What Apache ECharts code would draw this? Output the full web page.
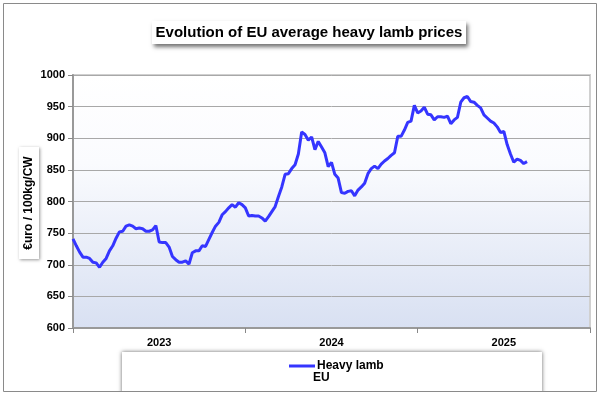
<!DOCTYPE html>
<html>
<head>
<meta charset="utf-8">
<script src="https://cdn.jsdelivr.net/npm/echarts@6/dist/echarts.min.js"></script>
<style>html,body{margin:0;padding:0;background:#fff}#c{width:600px;height:396px}</style>
</head>
<body>
<div id="c"></div>
<script>
// Year labels (x axis categories)
var years = ['2023', '2024', '2025'];
var weeksPerYear = 52;
// Y axis range/ticks
var yMin = 600, yMax = 1000, yStep = 50;
// Weekly EU average heavy lamb price (€/100kg CW), from week 1 of 2023
var prices = [
  741, 730, 720, 712, 712, 710, 704, 703, 696, 704,
  710, 722, 730, 742, 752, 753, 761, 763, 761, 757,
  758, 757, 753, 753, 755, 762, 736, 735, 735, 728,
  713, 708, 704, 704, 706, 701, 719, 722, 722, 730,
  729, 740, 751, 761, 767, 779, 784, 790, 795, 791,
  798, 795, 790, 777, 778, 777, 777, 774, 769, 776,
  784, 792, 808, 823, 843, 844, 852, 858, 875, 910,
  906, 897, 902, 882, 895, 886, 877, 855, 862, 843,
  837, 814, 813, 816, 817, 809, 818, 823, 829, 844,
  852, 856, 852, 859, 864, 868, 873, 877, 903, 903,
  913, 925, 927, 952, 940, 943, 949, 938, 937, 929,
  934, 934, 933, 935, 923, 929, 933, 957, 964, 966,
  958, 957, 952, 948, 937, 932, 927, 924, 918, 909,
  911, 890, 875, 862, 867, 865, 860, 863
];
var seriesName = 'Heavy lamb';
var seriesSub = 'EU';
var titleText = 'Evolution of EU average heavy lamb prices';
var yTitle = '€uro / 100kg/CW';

var FONT = '"Liberation Sans", Arial, sans-serif';
var chart = echarts.init(document.getElementById('c'), null, {renderer: 'canvas'});
chart.setOption({
  animation: false,
  backgroundColor: '#ffffff',
  grid: {
    left: 73, right: 10, top: 75, bottom: 68,
    show: true,
    borderColor: '#d0d0d0', borderWidth: 2,
    backgroundColor: {
      type: 'linear', x: 0, y: 0, x2: 0, y2: 1,
      colorStops: [
        {offset: 0, color: '#ffffff'},
        {offset: 0.35, color: '#fafbfe'},
        {offset: 1, color: '#d8e0f2'}
      ]
    }
  },
  legend: {
    data: [seriesName],
    left: 284, top: 355,
    icon: 'rect', itemWidth: 26, itemHeight: 3, itemGap: 4,
    textStyle: {fontFamily: FONT, fontWeight: 'bold', fontSize: 12, color: '#000', padding: [0, 0, 0, -3]}
  },
  xAxis: [{
    type: 'value', min: 0, max: weeksPerYear * years.length, interval: weeksPerYear,
    axisLabel: {show: false},
    axisTick: {show: true, length: 5, lineStyle: {color: '#888'}},
    axisLine: {lineStyle: {color: '#999', width: 2}},
    splitLine: {show: false}
  }, {
    type: 'category', data: years, position: 'bottom', boundaryGap: true,
    axisLine: {show: false}, axisTick: {show: false}, splitLine: {show: false},
    axisLabel: {fontFamily: FONT, fontWeight: 'bold', fontSize: 11, color: '#000', margin: 9}
  }],
  yAxis: {
    type: 'value', min: yMin, max: yMax, interval: yStep,
    axisLine: {show: true, lineStyle: {color: '#999', width: 2}},
    axisTick: {show: true, length: 5, lineStyle: {color: '#888'}},
    axisLabel: {fontFamily: FONT, fontWeight: 'bold', fontSize: 11, color: '#000', margin: 8,
      formatter: function (v) { return String(v); }},
    splitLine: {lineStyle: {color: '#a8a8a8', width: 1}}
  },
  series: [{
    name: seriesName, type: 'line', xAxisIndex: 0,
    data: prices.map(function (v, i) { return [i, v]; }),
    showSymbol: false, symbol: 'none',
    lineStyle: {color: '#3535ff', width: 3},
    itemStyle: {color: '#3535ff'}
  }],
  graphic: [
    {type: 'rect', shape: {x: 3.5, y: 3.5, width: 593, height: 388}, style: {fill: 'none', stroke: '#8a8a8a', lineWidth: 1}, z: 1},
    {type: 'rect', shape: {x: 152, y: 21, width: 314, height: 23},
      style: {fill: '#fff', shadowBlur: 4, shadowOffsetX: 2, shadowOffsetY: 3, shadowColor: 'rgba(0,0,0,0.55)'}, z: 2},
    {type: 'text', x: 309, y: 32.5, z: 3,
      style: {text: titleText, fill: '#000', font: 'bold 15px ' + FONT, textAlign: 'center', textVerticalAlign: 'middle'}},
    {type: 'rect', shape: {x: 19, y: 147, width: 20, height: 112},
      style: {fill: '#fff', shadowBlur: 3, shadowOffsetX: 1, shadowOffsetY: 1, shadowColor: 'rgba(0,0,0,0.4)'}, z: 2},
    {type: 'text', x: 29, y: 203, rotation: Math.PI / 2, z: 3,
      style: {text: yTitle, fill: '#000', font: 'bold 12px ' + FONT, textAlign: 'center', textVerticalAlign: 'middle'}},
    {type: 'rect', shape: {x: 122, y: 352, width: 420, height: 42},
      style: {fill: '#fff', shadowBlur: 4, shadowOffsetX: 0, shadowOffsetY: 0, shadowColor: 'rgba(0,0,0,0.6)'}, z: 0},
    {type: 'rect', shape: {x: 0, y: 392, width: 600, height: 4}, style: {fill: '#fff'}, z: 1},
    {type: 'text', x: 313, y: 372, z: 3,
      style: {text: seriesSub, fill: '#000', font: 'bold 12px ' + FONT}}
  ]
});
</script>
</body>
</html>
